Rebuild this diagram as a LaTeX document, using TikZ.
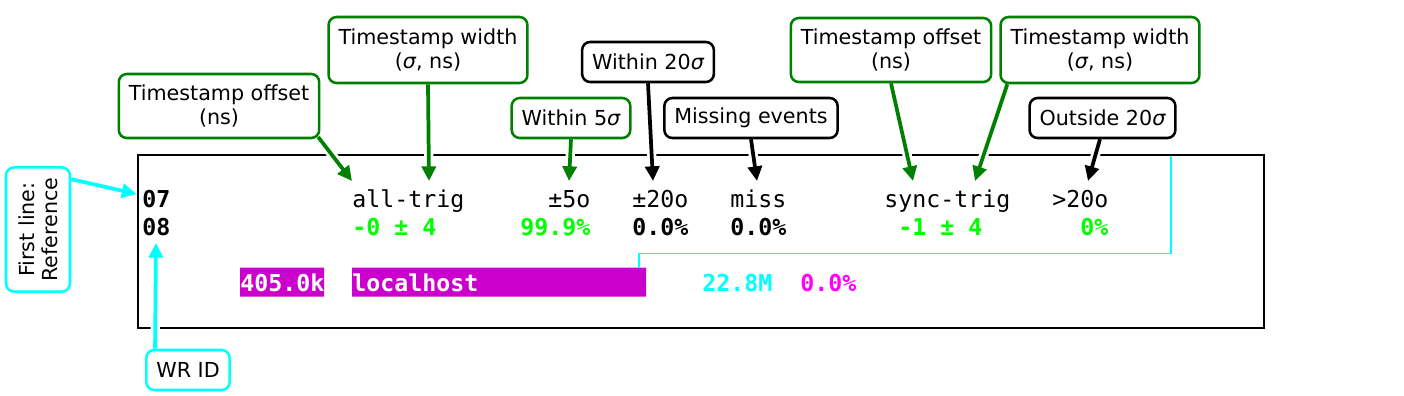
\documentclass[tikz,border=0pt]{standalone}
\usepackage{fontspec}
\setmainfont{DejaVu Sans}
\setmonofont{DejaVu Sans Mono}
\usetikzlibrary{arrows.meta}
\definecolor{okgreen}{RGB}{0,128,0}
\definecolor{litegreen}{RGB}{0,255,0}
\definecolor{wrcyan}{RGB}{0,255,255}
\definecolor{hostbg}{RGB}{204,0,204}
\definecolor{pctmag}{RGB}{255,0,255}
\newcommand{\lblfont}{\fontsize{15.5}{17.5}\selectfont}
\newcommand{\termfont}{\fontsize{17.44}{21}\selectfont\ttfamily}
\newcommand{\sig}{{\itshape σ}}

\begin{document}
\begin{tikzpicture}[x=0.75pt,y=-0.75pt,
  lbl/.style={draw,rounded corners=6pt,line width=1.9pt,fill=white,align=center,
    inner xsep=7.5pt,inner ysep=3pt,minimum height=30pt,font=\lblfont},
  tall/.style={minimum height=48pt},
  term/.style={anchor=base west,inner sep=0pt,font=\termfont},
  val/.style={term,font=\termfont\bfseries},
  callout/.style={line width=2.8pt,-{Triangle[length=11pt,width=10.5pt]},
    preaction={draw=white,line width=7pt,shorten <=3.5pt}}]
\useasboundingbox (0,0) rectangle (1404,396);

% terminal window
\draw[line width=2.2pt] (138,155) rectangle (1264,328);
\node[val] (idref) at (142,207) {07};
\node[val] (idwr) at (142,235) {08};
\node[term] (hall) at (352,207) {all-trig};
\node[term] (hfive) at (548,207) {±5o};
\node[term] (htwenty) at (632,207) {±20o};
\node[term] (hmiss) at (730,207) {miss};
\node[term] (hsync) at (884,207) {sync-trig};
\node[term] (hout) at (1052,207) {>20o};
\node[val,litegreen] (vall) at (352,235) {-0 ± 4};
\node[val,litegreen] (vfive) at (520,235) {99.9\%};
\node[val] (vtwenty) at (632,235) {0.0\%};
\node[val] (vmiss) at (730,235) {0.0\%};
\node[val,litegreen] (vsync) at (898,235) {-1 ± 4};
\node[val,litegreen] (vout) at (1080,235) {0\%};
\fill[hostbg] (240,267.5) rectangle (324,296.5) (352,267.5) rectangle (646,296.5);
\node[val,white] (rate) at (240,291) {405.0k};
\node[val,white] (host) at (352,291) {localhost};
\node[val,wrcyan] (evts) at (702,291) {22.8M};
\node[val,pctmag] (loss) at (800,291) {0.0\%};
\draw[wrcyan,line width=1.4pt] (639,268) |- (1171,253.5) -- (1171,156);

% callout boxes
\node[lbl,draw=okgreen,tall] (offref) at (219,106) {Timestamp offset\\(ns)};
\node[lbl,draw=okgreen,minimum height=49.5pt] (widref) at (428,50) {Timestamp width\\(\sig, ns)};
\node[lbl,draw=okgreen] (fivesig) at (571,118) {Within 5\sig};
\node[lbl] (twentysig) at (648,62) {Within 20\sig};
\node[lbl] (missing) at (751,118) {Missing events};
\node[lbl,draw=okgreen,tall] (offsync) at (891,50) {Timestamp offset\\(ns)};
\node[lbl,draw=okgreen,minimum height=49.5pt] (widsync) at (1100,50) {Timestamp width\\(\sig, ns)};
\node[lbl] (outside) at (1102.5,118) {Outside 20\sig};
\node[lbl,draw=wrcyan,tall,rotate=90] (firstline) at (38,229.5) {First line:\\Reference};
\node[lbl,draw=wrcyan] (wrid) at (188,370) {WR ID};

% arrow tips
\coordinate (poffref) at (352,181);
\coordinate (pwidref) at (429,181);
\coordinate (pfive) at (569,181);
\coordinate (ptwenty) at (653,181);
\coordinate (pmiss) at (757,181);
\coordinate (poffsync) at (913,181);
\coordinate (pwidsync) at (975,181);
\coordinate (pout) at (1088,181);
\coordinate (pref) at (136.5,194);
\coordinate (pwr) at (156,243);

\draw[callout,okgreen] ([xshift=-1.7pt,yshift=1.7pt]offref.south east) -- (poffref);
\draw[callout,okgreen] (widref.south) -- (pwidref);
\draw[callout,okgreen] (fivesig.south) -- (pfive);
\draw[callout] (twentysig.south) -- (ptwenty);
\draw[callout] (missing.south) -- (pmiss);
\draw[callout,okgreen] (offsync.south) -- (poffsync);
\draw[callout,okgreen] ([xshift=6pt]widsync.south west) -- (pwidsync);
\draw[callout] ([xshift=-1.9pt]outside.south) -- (pout);
\draw[callout,wrcyan] ([yshift=-9.75pt]firstline.south east) -- (pref);
\draw[callout,wrcyan] ([xshift=7.5pt]wrid.north west) -- (pwr);
\end{tikzpicture}
\end{document}
